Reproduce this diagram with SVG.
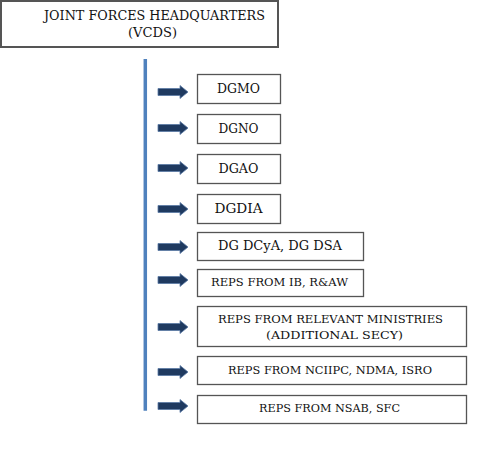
<svg xmlns="http://www.w3.org/2000/svg" width="480" height="450" viewBox="0 0 480 450">
<defs>
<style>
.box{fill:#fff;stroke:#555;stroke-width:1.3}
.t{font-family:'DejaVu Serif','Liberation Serif',serif;font-size:13.5px;font-weight:normal;fill:#111;text-anchor:middle}
.s{font-size:11px}
.arr{fill:#1f3a60;stroke:#5a7aa5;stroke-width:0.8}
</style>
<path id="a" d="M0,-3.5 L22,-3.5 L22,-6.5 L30,0 L22,6.5 L22,3.5 L0,3.5 Z"/>
</defs>
<rect width="480" height="450" fill="#fff"/>
<g id="connectors">
<line x1="145.3" y1="59" x2="145.3" y2="410.7" stroke="#4f81bd" stroke-width="3.5"/>
<use href="#a" class="arr" x="158" y="92"/>
<use href="#a" class="arr" x="158" y="128"/>
<use href="#a" class="arr" x="158" y="168"/>
<use href="#a" class="arr" x="158" y="209"/>
<use href="#a" class="arr" x="158" y="247"/>
<use href="#a" class="arr" x="158" y="280"/>
<use href="#a" class="arr" x="158" y="327"/>
<use href="#a" class="arr" x="158" y="372"/>
<use href="#a" class="arr" x="158" y="406"/>
</g>
<g id="hq">
<rect x="1" y="1" width="277" height="46" fill="#fff" stroke="#555" stroke-width="2"/>
<text class="t" x="154.5" y="19.5" textLength="221" lengthAdjust="spacingAndGlyphs">JOINT FORCES HEADQUARTERS</text>
<text class="t" x="152.5" y="36.5" textLength="49" lengthAdjust="spacingAndGlyphs">(VCDS)</text>
</g>
<g id="dgmo"><rect class="box" x="197.5" y="74.5" width="83" height="29"/><text class="t" x="238.5" y="93" textLength="43" lengthAdjust="spacingAndGlyphs">DGMO</text></g>
<g id="dgno"><rect class="box" x="197.5" y="114.5" width="83" height="29"/><text class="t" x="238.5" y="133" textLength="40" lengthAdjust="spacingAndGlyphs">DGNO</text></g>
<g id="dgao"><rect class="box" x="197.5" y="154.5" width="83" height="29"/><text class="t" x="238.5" y="173" textLength="40" lengthAdjust="spacingAndGlyphs">DGAO</text></g>
<g id="dgdia"><rect class="box" x="197.5" y="194.5" width="83" height="29"/><text class="t" x="238.5" y="213" textLength="48" lengthAdjust="spacingAndGlyphs">DGDIA</text></g>
<g id="dgdcya"><rect class="box" x="197.5" y="232.5" width="166" height="28"/><text class="t" x="280" y="250" textLength="124" lengthAdjust="spacingAndGlyphs">DG DCyA, DG DSA</text></g>
<g id="ib"><rect class="box" x="197.5" y="269.5" width="166" height="27"/><text class="t s" x="279.5" y="286" textLength="137" lengthAdjust="spacingAndGlyphs">REPS FROM IB, R&amp;AW</text></g>
<g id="ministries"><rect class="box" x="197.5" y="306.5" width="269" height="40"/><text class="t s" x="330.5" y="323" textLength="225" lengthAdjust="spacingAndGlyphs">REPS FROM RELEVANT MINISTRIES</text><text class="t s" x="334.5" y="339" textLength="137" lengthAdjust="spacingAndGlyphs">(ADDITIONAL SECY)</text></g>
<g id="nciipc"><rect class="box" x="197.5" y="356.5" width="269" height="28"/><text class="t s" x="330" y="374" textLength="204" lengthAdjust="spacingAndGlyphs">REPS FROM NCIIPC, NDMA, ISRO</text></g>
<g id="nsab"><rect class="box" x="197.5" y="395.5" width="269" height="28"/><text class="t s" x="329.5" y="411.5" textLength="141" lengthAdjust="spacingAndGlyphs">REPS FROM NSAB, SFC</text></g>
</svg>
